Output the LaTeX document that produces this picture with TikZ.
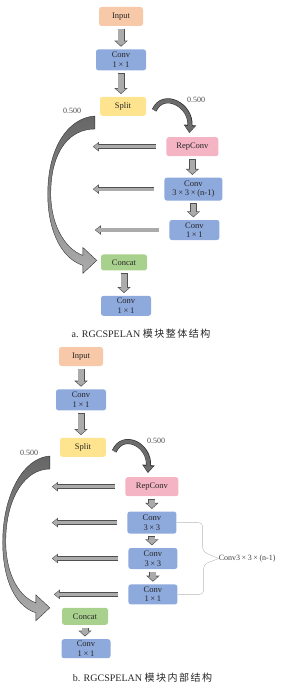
\documentclass[tikz,border=0pt]{standalone}
\usepackage{fontspec}
\setmainfont{Liberation Serif}
\newfontfamily\cjkfont[LetterSpace=15]{Noto Sans CJK SC}
\usetikzlibrary{arrows.meta,positioning,calc}
\definecolor{inpeach}{HTML}{F7C9A9}
\definecolor{convblue}{HTML}{8EA9DB}
\definecolor{splityel}{HTML}{FFE48F}
\definecolor{reppink}{HTML}{F4B4C3}
\definecolor{catgreen}{HTML}{A9D18E}
\definecolor{arrfill}{HTML}{ABABAB}
\definecolor{arredge}{HTML}{505050}
\tikzset{
  block/.style={rectangle,rounded corners=2.5pt,fill=#1,text=black!85,
    font=\fontsize{8.5}{9.5}\selectfont,align=center,inner sep=1pt},
  block/.default={convblue},
  varrow/.style={draw=arrfill,line width=5.6pt,-{Triangle[width=9.8pt,length=4.2pt]},
    shorten <=3.2pt,shorten >=3.5pt,
    preaction={draw=arredge,line width=7pt,-{Triangle[width=13pt,length=6pt]},
      shorten <=2.5pt,shorten >=2.5pt}},
  harrow/.style={draw=arrfill,line width=3.2pt,-{Triangle[width=6.6pt,length=4.3pt]},
    shorten <=10.7pt,shorten >=0.9pt,
    preaction={draw=arredge,line width=4.6pt,-{Triangle[width=9pt,length=6pt]},
      shorten <=10pt,shorten >=0pt}},
  curvearrow/.style={draw=gray!85!black,line width=3.8pt,-{Triangle[width=9.6pt,length=6pt]},
    shorten >=1pt,
    preaction={draw=gray!35!black,line width=5pt,-{Triangle[width=12pt,length=8pt]},
      shorten >=0pt}},
  bigarrow/.style={draw=gray!40!black,line width=0.4pt,top color=gray!80!black,bottom color=gray!65},
  ratio/.style={font=\fontsize{8}{9}\selectfont,text=gray!60!black,inner sep=0pt},
  brace/.style={draw=gray!55,line width=0.4pt,rounded corners=4pt},
  caption/.style={font=\fontsize{10}{12}\selectfont,text=black!85,inner sep=0pt},
}
\newcommand{\crossx}{\hspace{0.2em}×\hspace{0.2em}}
% tapered curved arrow: #1 = top outer corner, #2 = tip
\newcommand{\bigcurve}[2]{%
  \path[bigarrow] (#1)
    .. controls ($(#1)+(-27,2)$) and ($(#1 |- #2)+(-46,-113)$) .. ($(#1 |- #2)+(-47,-70)$)
    .. controls ($(#1 |- #2)+(-48,-35)$) and ($(#2)+(-38,-3)$) .. ($(#2)+(-14,5)$)
    -- ($(#2)+(-14,13)$) -- (#2) -- ($(#2)+(-14,-13)$) -- ($(#2)+(-14,-5)$)
    .. controls ($(#2)+(-33,-12)$) and ($(#1 |- #2)+(-45,-38)$) .. ($(#1 |- #2)+(-44,-70)$)
    .. controls ($(#1 |- #2)+(-43,-110)$) and ($(#1)+(-25,13)$) .. ($(#1)+(0,13)$)
    -- cycle;}

\begin{document}
\begin{tikzpicture}[x=1pt,y=-1pt]
  \useasboundingbox (0,0) rectangle (304,690);
  % a. overall structure
  \node[block=inpeach,minimum width=44pt,minimum height=19pt] (inputa) at (121,16.5) {Input};
  \node[block,minimum width=50pt,minimum height=21pt,below=23pt of inputa] (conva) {Conv\\1\crossx1};
  \node[block=splityel,minimum width=46pt,minimum height=19pt,below=26pt of conva,xshift=2pt] (splita) {Split};
  \node[block=reppink,minimum width=52pt,minimum height=19pt,below right=21pt and 20pt of splita] (repa) {RepConv};
  \node[block,minimum width=58pt,minimum height=23pt,below=21pt of repa,xshift=1pt] (convna) {Conv\\3\crossx3\crossx(n-1)};
  \node[block,minimum width=50pt,minimum height=20pt,below=19pt of convna,xshift=1pt] (convea) {Conv\\1\crossx1};
  \node[block=catgreen,minimum width=46pt,minimum height=16pt,below left=14pt and 22pt of convea] (cata) {Concat};
  \node[block,minimum width=50pt,minimum height=20pt,below=25pt of cata,xshift=2pt] (outa) {Conv\\1\crossx1};

  \draw[varrow] (inputa.south) -- (inputa.south |- conva.north);
  \draw[varrow] (conva.south) -- (conva.south |- splita.north);
  \draw[varrow] (repa.south) -- (repa.south |- convna.north);
  \draw[varrow] (convna.south) -- (convna.south |- convea.north);
  \draw[varrow] (cata.south) -- (cata.south |- outa.north);

  \coordinate (la1) at ($(repa.west -| cata.west)+(-8,0)$);
  \coordinate (la2) at ($(convna.west -| cata.west)+(-8,0)$);
  \coordinate (la3) at ($(convea.west -| cata.west)+(-6,0)$);
  \draw[harrow] (repa.west) -- (la1);
  \draw[harrow] (convna.west) -- (la2);
  \draw[harrow] (convea.west) -- (la3);

  \draw[curvearrow] ([shift={(8,4)}]splita.east) .. controls +(9,-20) and +(2,-28) .. ([shift={(-3,-4)}]repa.north);
  \coordinate (sa) at ($(splita.south west)+(-5,0)$);
  \coordinate (ta) at ($(cata.west)+(-4,-2)$);
  \bigcurve{sa}{ta}
  \node[ratio] (ra1) at (196,100) {0.500};
  \node[ratio] (ra2) at (72,111) {0.500};
  \node[caption] (capa) at (141,334) {a. RGCSPELAN {\cjkfont 模块整体结构}};

  % b. inner structure
  \node[block=inpeach,minimum width=44pt,minimum height=19pt] (inputb) at (81,356.5) {Input};
  \node[block,minimum width=50pt,minimum height=21pt,below=23pt of inputb] (convb) {Conv\\1\crossx1};
  \node[block=splityel,minimum width=46pt,minimum height=19pt,below=27pt of convb,xshift=2pt] (splitb) {Split};
  \node[block=reppink,minimum width=53pt,minimum height=19pt,below right=20pt and 19pt of splitb] (repb) {RepConv};
  \node[block,minimum width=49pt,minimum height=22pt,below=15pt of repb] (convnb) {Conv\\3\crossx3};
  \node[block,minimum width=49pt,minimum height=21pt,below=14pt of convnb,xshift=1pt] (convnc) {Conv\\3\crossx3};
  \node[block,minimum width=49pt,minimum height=20pt,below=15pt of convnc] (conveb) {Conv\\1\crossx1};
  \node[block=catgreen,minimum width=46pt,minimum height=17pt,below left=3pt and 20pt of conveb] (catb) {Concat};
  \node[block,minimum width=49pt,minimum height=19pt,below=14pt of catb,xshift=1pt] (outb) {Conv\\1\crossx1};

  \draw[varrow] (inputb.south) -- (inputb.south |- convb.north);
  \draw[varrow] (convb.south) -- (convb.south |- splitb.north);
  \draw[varrow] (repb.south) -- (repb.south |- convnb.north);
  \draw[varrow] (convnb.south) -- (convnb.south |- convnc.north);
  \draw[varrow] (convnc.south) -- (convnc.south |- conveb.north);
  \draw[varrow] (catb.south) -- (catb.south |- outb.north);

  \coordinate (lb1) at ($(repb.west -| catb.west)+(-10,0)$);
  \coordinate (lb2) at ($(convnb.west -| catb.west)+(-10,0)$);
  \coordinate (lb3) at ($(convnc.west -| catb.west)+(-10,0)$);
  \coordinate (lb4) at ($(conveb.west -| catb.west)+(-8,0)$);
  \draw[harrow] (repb.west) -- (lb1);
  \draw[harrow] (convnb.west) -- (lb2);
  \draw[harrow] (convnc.west) -- (lb3);
  \draw[harrow] (conveb.west) -- (lb4);

  \draw[curvearrow] ([shift={(8,4)}]splitb.east) .. controls +(9,-20) and +(2,-28) .. ([shift={(-4,-4)}]repb.north);
  \coordinate (sb) at ($(splitb.south west)+(-10,-1)$);
  \coordinate (tb) at ($(catb.west)+(-12,-8.5)$);
  \bigcurve{sb}{tb}
  \node[ratio] (rb1) at (156,441) {0.500};
  \node[ratio] (rb2) at (29,453) {0.500};

  \node[font=\fontsize{8}{9}\selectfont,text=black!75,anchor=west,inner sep=0pt] (nlab) at ($(convnc.east)+(41,0)$) {Conv3\crossx3\crossx(n-1)};
  \draw[brace] (convnb.east) -- ++(26,0) -- ++(0,29) -- (nlab.west);
  \draw[brace] (conveb.east) -- ++(26,0) -- ++(0,-30) -- (nlab.west);
  \node[caption] (capb) at (142.5,678) {b. RGCSPELAN {\cjkfont 模块内部结构}};
\end{tikzpicture}
\end{document}
